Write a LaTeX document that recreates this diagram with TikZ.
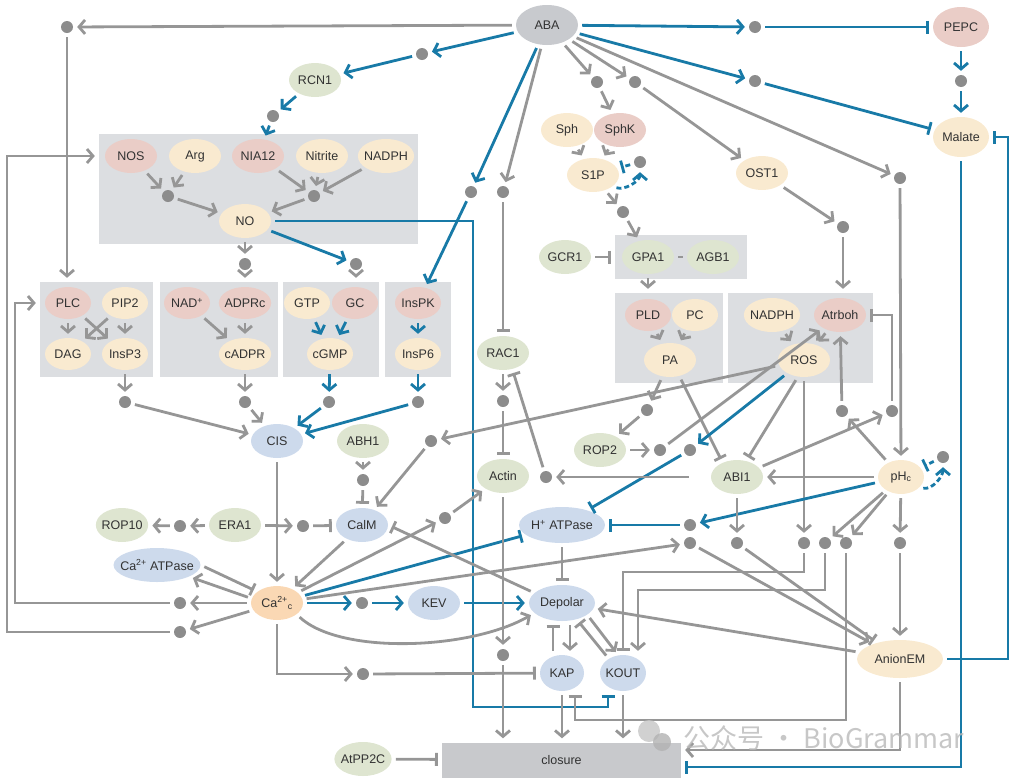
\documentclass[tikz,border=0pt]{standalone}
\usepackage{fontspec}
\setmainfont{Liberation Sans}
\newfontfamily\cjkfont{Noto Sans CJK SC}
\usetikzlibrary{arrows.meta,shapes.geometric}

\definecolor{lgray}{RGB}{150,150,150}
\definecolor{dotc}{RGB}{140,140,140}
\definecolor{bl}{RGB}{24,122,167}
\definecolor{boxc}{RGB}{220,222,225}
\definecolor{closc}{RGB}{200,201,204}
\definecolor{pinkc}{RGB}{234,205,199}
\definecolor{creamc}{RGB}{249,234,208}
\definecolor{greenc}{RGB}{222,229,208}
\definecolor{bluec}{RGB}{205,218,236}
\definecolor{abac}{RGB}{200,202,206}
\definecolor{orangec}{RGB}{250,216,180}
\definecolor{txtc}{RGB}{50,50,50}

\begin{document}
\begin{tikzpicture}[
                x=1pt,y=-1pt,
                mol/.style={ellipse,inner xsep=-2pt,inner ysep=0pt,minimum width=52pt,minimum height=34pt,
                            text=txtc,font=\fontsize{12.5}{14}\selectfont},
                sm/.style={minimum width=46pt,minimum height=32pt},
                enz/.style={mol,fill=pinkc},
                met/.style={mol,fill=creamc},
                prot/.style={mol,fill=greenc},
                chan/.style={mol,fill=bluec},
                jn/.style={circle,fill=dotc,inner sep=0pt,minimum size=12pt},
                grp/.style={rectangle,fill=boxc,inner sep=0pt},
                ln/.style={line width=2.8pt,shorten <=4pt,shorten >=4pt},
                act/.style={ln,draw=lgray,-{Straight Barb[length=6pt,width=14pt]}},
                inh/.style={ln,draw=lgray,-{Bar[width=13pt]}},
                bact/.style={ln,draw=bl,-{Straight Barb[length=6pt,width=14pt]}},
                binh/.style={ln,draw=bl,-{Bar[width=13pt]}},
                dsh/.style={dash pattern=on 5pt off 3pt}
            ]
                \useasboundingbox (0,0) rectangle (1014,777);
                % grey groups
                \node[grp,minimum width=319pt,minimum height=110pt] (nobox)  at (258.5,189) {};
                \node[grp,minimum width=113pt,minimum height=95pt]  (plcbox) at (96.5,329.5) {};
                \node[grp,minimum width=118pt,minimum height=95pt]  (adpbox) at (219,329.5) {};
                \node[grp,minimum width=96pt,minimum height=95pt]   (gcbox)  at (331,329.5) {};
                \node[grp,minimum width=66pt,minimum height=95pt]   (ipkbox) at (418,329.5) {};
                \node[grp,minimum width=132pt,minimum height=44pt]  (gpabox) at (681,257) {};
                \node[grp,minimum width=108pt,minimum height=90pt]  (pldbox) at (669,338) {};
                \node[grp,minimum width=145pt,minimum height=90pt]  (rosbox) at (800.5,338) {};
                \node[grp,fill=closc,minimum width=239pt,minimum height=35pt,text=txtc,
                      font=\fontsize{12.5}{14}\selectfont] (closure) at (561.5,760) {closure};

                % top
                \node[mol,fill=abac,minimum width=62pt,minimum height=40pt] (aba) at (547,25) {ABA};
                \node[enz,minimum width=56pt,minimum height=40pt] (pepc)   at (961,27)  {PEPC};
                \node[met,minimum width=56pt,minimum height=40pt] (malate) at (961,137) {Malate};
                \node[prot] (rcn1) at (315,80) {RCN1};
                \node[jn] (dtl)   at (67,27)   {};
                \node[jn] (d422)  at (422,54)  {};
                \node[jn] (drcn)  at (273,116) {};
                \node[jn] (dpepc) at (755,27)  {};
                \node[jn] (dmal)  at (755,81)  {};
                \node[jn] (dpm)   at (961,81)  {};
                \node[jn] (d597)  at (597,82)  {};
                \node[jn] (d635)  at (635,82)  {};
                \node[jn] (d472)  at (471,192) {};
                \node[jn] (d503a) at (503,192) {};
                \node[jn] (d900)  at (900,178) {};

                % NO group
                \node[enz] (nos)     at (131,156) {NOS};
                \node[met] (arg)     at (195,156) {Arg};
                \node[enz] (nia)     at (258,156) {NIA12};
                \node[met] (nitrite) at (322,156) {Nitrite};
                \node[met] (nadph)   at (386,156) {NADPH};
                \node[jn] (dno1) at (168,196) {};
                \node[jn] (dno2) at (314,196) {};
                \node[met] (no) at (245,221) {NO};

                % second messengers
                \node[enz,sm] (plc)   at (68,303)  {PLC};
                \node[met,sm] (pip2)  at (125,303) {PIP2};
                \node[met,sm] (dag)   at (68,354)  {DAG};
                \node[met,sm] (insp3) at (125,354) {InsP3};
                \node[enz,sm] (nad)   at (187,303) {NAD\textsuperscript{+}};
                \node[enz,sm] (adprc) at (245,303) {ADPRc};
                \node[met,sm] (cadpr) at (245,354) {cADPR};
                \node[met,sm] (gtp)   at (307,303) {GTP};
                \node[enz,sm] (gc)    at (355,303) {GC};
                \node[met,sm] (cgmp)  at (330,354) {cGMP};
                \node[enz,sm] (inspk) at (418,303) {InsPK};
                \node[met,sm] (insp6) at (418,354) {InsP6};
                \node[jn] (d245a) at (245,264) {};
                \node[jn] (d356)  at (356,264) {};
                \node[jn] (d124)  at (125,402) {};
                \node[jn] (d245b) at (245,402) {};
                \node[jn] (d329)  at (329,402) {};
                \node[jn] (d418)  at (418,402) {};

                % calcium
                \node[chan] (cis)  at (277,441) {CIS};
                \node[prot] (abh1) at (363,441) {ABH1};
                \node[jn] (d363a) at (363,480) {};
                \node[jn] (d431)  at (431,441) {};
                \node[chan] (calm)  at (362,525) {CalM};
                \node[prot] (era1)  at (235,525) {ERA1};
                \node[prot] (rop10) at (122,525) {ROP10};
                \node[jn] (d180c) at (180,526) {};
                \node[jn] (d303)  at (303,526) {};
                \node[chan,inner xsep=-6pt,minimum width=84pt] (caatp) at (157,565) {Ca\textsuperscript{2+} ATPase};
                \node[mol,fill=orangec] (ca) at (277,603) {Ca\textsuperscript{2+}\textsubscript{c}};
                \node[jn] (d180a) at (180,603) {};
                \node[jn] (d180b) at (180,632) {};
                \node[jn] (d362)  at (362,603) {};
                \node[chan] (kev) at (434,603) {KEV};
                \node[jn] (d445)  at (445,518) {};
                \node[jn] (d363b) at (363,674) {};
                \node[prot] (atpp2c) at (363,759) {AtPP2C};

                % middle
                \node[prot] (rac1)  at (503,353) {RAC1};
                \node[jn] (d503b) at (503,401) {};
                \node[prot] (actin) at (503,476) {Actin};
                \node[jn] (d546)  at (546,477) {};
                \node[jn] (d503c) at (503,655) {};
                \node[chan,inner xsep=-6pt,minimum width=86pt,minimum height=36pt] (hatp) at (562,525) {H\textsuperscript{+} ATPase};
                \node[chan,minimum width=66pt,minimum height=36pt] (depolar) at (562,603) {Depolar};
                \node[chan,minimum width=44pt,minimum height=36pt] (kap)  at (562,673) {KAP};
                \node[chan,minimum width=46pt,minimum height=36pt] (kout) at (623,673) {KOUT};

                % right
                \node[met] (sph)  at (567,130) {Sph};
                \node[enz] (sphk) at (620,130) {SphK};
                \node[met] (s1p)  at (593,175) {S1P};
                \node[jn] (ds1p) at (640,162) {};
                \node[jn] (d623) at (623,212) {};
                \node[met] (ost1) at (762,173) {OST1};
                \node[jn] (d843) at (843,227) {};
                \node[prot] (gcr1) at (565,257) {GCR1};
                \node[prot] (gpa1) at (648,257) {GPA1};
                \node[prot] (agb1) at (713,257) {AGB1};
                \node[enz,sm] (pld)    at (648,315) {PLD};
                \node[met,sm] (pc)     at (695,315) {PC};
                \node[met] (pa)        at (670,360) {PA};
                \node[met] (nadphb)    at (772,315) {NADPH};
                \node[enz] (atrboh)    at (840,315) {Atrboh};
                \node[met] (ros)       at (804,360) {ROS};
                \node[jn] (d647)  at (647,410) {};
                \node[prot] (rop2) at (600,450) {ROP2};
                \node[jn] (d660)  at (660,450) {};
                \node[jn] (d690a) at (690,450) {};
                \node[prot] (abi1) at (737,477) {ABI1};
                \node[jn] (d842)  at (842,411) {};
                \node[jn] (d892)  at (892,411) {};
                \node[met,minimum width=46pt] (phc) at (901,477) {pH\textsubscript{c}};
                \node[jn] (dph)   at (943,457) {};
                \node[jn] (d690b) at (690,525) {};
                \node[jn] (d690c) at (690,543) {};
                \node[jn] (d737)  at (737,543) {};
                \node[jn] (d804)  at (804,543) {};
                \node[jn] (d825)  at (825,543) {};
                \node[jn] (d846)  at (846,543) {};
                \node[jn] (d900b) at (900,543) {};
                \node[met,minimum width=86pt,minimum height=38pt] (anion) at (900,659) {AnionEM};

                % ABA
                \draw[act] (aba) -- (dtl);
                \draw[act] (dtl) -- (dtl |- plcbox.north);
                \draw[bact] (aba) -- (d422);
                \draw[bact] (d422) -- (rcn1);
                \draw[bact] (rcn1) -- (drcn);
                \draw[bact] (drcn) -- (nia);
                \draw[bact] (aba) -- (d472);
                \draw[bact] (d472) -- (inspk);
                \draw[act] (aba) -- (d503a);
                \draw[inh] (d503a) -- (rac1);
                \draw[act] (aba) -- (d597);
                \draw[act] (d597) -- (sphk);
                \draw[act] (aba) -- (d635);
                \draw[act] (d635) -- (ost1);
                \draw[act] (aba) -- (d900);
                \draw[bact] (aba) -- (dpepc);
                \draw[binh] (dpepc) -- (pepc);
                \draw[bact] (aba) -- (dmal);
                \draw[binh] (dmal) -- (malate);
                \draw[bact] (pepc) -- (dpm);
                \draw[bact] (dpm) -- (malate);

                % NO
                \draw[act] (nos) -- (dno1);
                \draw[act] (arg) -- (dno1);
                \draw[act] (nia) -- (dno2);
                \draw[act] (nitrite) -- (dno2);
                \draw[act] (nadph) -- (dno2);
                \draw[act] (dno1) -- (no);
                \draw[act] (dno2) -- (no);
                \draw[act] (no) -- (d245a);
                \draw[act] (d245a) -- (d245a |- adpbox.north);
                \draw[bact] (no) -- (d356);
                \draw[act] (d356) -- (d356 |- gcbox.north);
                \draw[binh] (no) -| (473,707) -| ([xshift=-15pt]kout.south);

                % messengers to CIS
                \draw[act] (plc) -- (dag);
                \draw[act] (plc) -- (insp3);
                \draw[act] (pip2) -- (dag);
                \draw[act] (pip2) -- (insp3);
                \draw[act] (nad) -- (cadpr);
                \draw[act] (adprc) -- (cadpr);
                \draw[bact] (gtp) -- (cgmp);
                \draw[bact] (gc) -- (cgmp);
                \draw[bact] (inspk) -- (insp6);
                \draw[act] (insp3) -- (d124);
                \draw[act] (cadpr) -- (d245b);
                \draw[bact] (cgmp) -- (d329);
                \draw[bact] (insp6) -- (d418);
                \draw[act] (d124) -- (cis);
                \draw[act] (d245b) -- (cis);
                \draw[bact] (d329) -- (cis);
                \draw[bact] (d418) -- (cis);
                \draw[act] (d180a) -| (15,303) -- (plcbox.west |- plc);
                \draw[act] (d180b) -| (7,156) -- (nobox.west |- nos);

                % calcium
                \draw[act] (cis) -- (ca);
                \draw[act] (abh1) -- (d363a);
                \draw[inh] (d363a) -- (calm);
                \draw[act] (d431) -- (calm);
                \draw[act] (era1) -- (d303);
                \draw[inh] (d303) -- (calm);
                \draw[act] (era1) -- (d180c);
                \draw[act] (d180c) -- (rop10);
                \draw[act] (calm) -- (ca);
                \draw[act] (ca.170) -- (caatp.-20);
                \draw[inh] (caatp.east) -- (ca.150);
                \draw[act] (ca) -- (d180a);
                \draw[act] (ca) -- (d180b);
                \draw[bact] (ca) -- (d362);
                \draw[bact] (d362) -- (kev);
                \draw[bact] (kev) -- (depolar);
                \draw[act] (ca.-30) .. controls (340,655) and (470,650) .. (depolar.-160);
                \draw[act] (ca) |- (d363b);
                \draw[inh] (d363b) -- (kap);
                \draw[act] (ca) -- (d445);
                \draw[act] (d445) -- (actin);
                \draw[binh] (ca) -- (hatp);
                \draw[act] (ca) -- (d690c);
                \draw[inh] (depolar.160) -- (calm.east);

                % S1P, G protein, ROS
                \draw[act] (sph) -- (s1p);
                \draw[act] (sphk) -- (s1p);
                \draw[binh,dsh] (ds1p) -- (s1p);
                \draw[bact,dsh] (s1p.-30) to[out=-20,in=-90] (ds1p);
                \draw[act] (s1p) -- (d623);
                \draw[act] (d623) -- (gpa1);
                \draw[inh] (gcr1) -- (gpabox);
                \draw[ln,draw=lgray] (gpa1) -- (agb1);
                \draw[act] (gpa1) -- (gpa1 |- pldbox.north);
                \draw[act] (pld) -- (pa);
                \draw[act] (pc) -- (pa);
                \draw[act] (nadphb) -- (ros);
                \draw[act] (atrboh) -- (ros);
                \draw[act] (ost1) -- (d843);
                \draw[act] (d843) -- (d843 |- rosbox.north);
                \draw[act] (pa) -- (d647);
                \draw[act] (d647) -- (rop2);
                \draw[act] (rop2) -- (d660);
                \draw[act] (d660) -- (atrboh);
                \draw[inh] (pa.-60) -- (abi1.135);
                \draw[inh] (ros.-110) -- (abi1.60);
                \draw[act] (ros) -- (d431);
                \draw[bact] (ros) -- (d690a);
                \draw[binh] (d690a) -- (hatp);
                \draw[act] (ros) -- (d804);
                \draw[act] (d842) -- (atrboh);
                \draw[inh] (d892) |- (atrboh);

                % pHc, ABI1
                \draw[act] (phc) -- (d842);
                \draw[act] (abi1) -- (d892);
                \draw[act] (phc) -- (abi1);
                \draw[act] (d900) -- (phc);
                \draw[binh,dsh] (dph) -- (phc);
                \draw[bact,dsh] (phc.-30) to[out=-10,in=-90] (dph);
                \draw[bact] (phc) -- (d690b);
                \draw[act] (phc) -- (d825);
                \draw[act] (phc) -- (d846);
                \draw[act] (phc) -- (d900b);
                \draw[act] (abi1) -- (d737);
                \draw[act,shorten <=22pt] (abi1) -- (d546);
                \draw[inh] (d546) -- (rac1.-60);
                \draw[act] (rac1) -- (d503b);
                \draw[inh] (d503b) -- (actin);
                \draw[act] (actin) -- (d503c);
                \draw[act] (d503c) -- (d503c |- closure.north);

                % membrane
                \draw[binh] (d690b) -- (hatp);
                \draw[inh] (hatp) -- (depolar);
                \draw[act] (d690c) -- (anion);
                \draw[inh] (d737) -- (anion);
                \draw[act] (d900b) -- (anion);
                \draw[inh] (d804) -- (804,572) -| (kout.north);
                \draw[act] (d825) -- (825,590) -| ([xshift=15pt]kout.north);
                \draw[inh] (d846) -- (846,720) -| ([xshift=13pt]kap.south);
                \draw[act] (anion) -- (depolar);
                \draw[act] (anion) |- ([yshift=10pt]closure.east);
                \draw[binh] (anion) -| (1008,137) -- (malate);
                \draw[binh] (malate) |- ([yshift=-7pt]closure.east);
                \draw[inh] ([xshift=-9pt]kap.north) -- ([xshift=-9pt]depolar.south);
                \draw[act] ([xshift=8pt]depolar.south) -- ([xshift=8pt]kap.north);
                \draw[act] (depolar.-25) -- (kout.105);
                \draw[inh] (kout.135) -- (depolar.-48);
                \draw[act] (kap) -- (kap |- closure.north);
                \draw[act] (kout) -- (kout |- closure.north);
                \draw[inh] (atpp2c) -- (closure);

                % watermark
                \fill[gray!45,opacity=0.8] (649,731) circle[radius=11pt];
                \fill[gray!60,opacity=0.8] (662,742) circle[radius=9pt];
                \node[anchor=west,text=gray!55,opacity=0.8,font=\cjkfont\fontsize{27}{30}\selectfont] (wm) at (680,738) {公众号 · BioGrammar};
            \end{tikzpicture}
\end{document}
